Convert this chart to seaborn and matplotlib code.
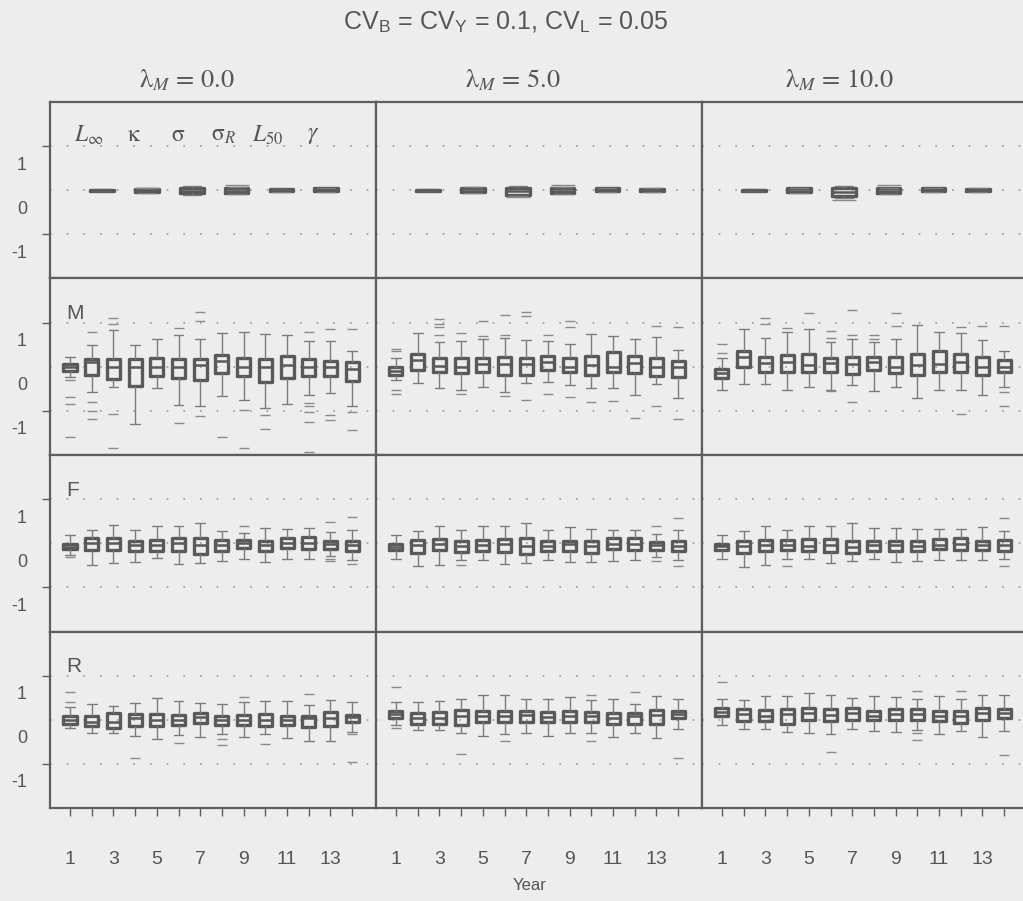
import matplotlib
matplotlib.use("Agg")
import matplotlib.pyplot as plt
from matplotlib.transforms import offset_copy
import numpy as np
import pandas as pd
import seaborn as sns

# ---------------------------------------------------------------- data
years = list(range(1, 15))
year_labels = [str(y) if y % 2 == 1 else "" for y in years]
lambda_titles = [r"λ$_M$ = 0.0", r"λ$_M$ = 5.0", r"λ$_M$ = 10.0"]
param_names = [r"$L_\infty$", "κ", "σ", r"σ$_R$", r"$L_{50}$", r"$\gamma$"]
row_names = ["M", "F", "R"]
y_tick_values = [-1, 0, 1]
ref_levels = [-1, 0, 1]

# each tuple: (lower whisker, Q1, median, Q3, upper whisker)
par_l0 = [(-0.02, -0.01, 0.0, 0.01, 0.02), (-0.07, -0.05, -0.01, 0.03, 0.05),
          (-0.10, -0.07, -0.01, 0.05, 0.09), (-0.08, -0.06, -0.01, 0.04, 0.07),
          (-0.03, -0.02, 0.0, 0.02, 0.03), (-0.03, -0.02, 0.01, 0.04, 0.06)]
par_l5 = [(-0.02, -0.01, 0.0, 0.01, 0.02), (-0.07, -0.05, -0.01, 0.04, 0.07),
          (-0.13, -0.10, -0.02, 0.06, 0.09), (-0.09, -0.06, -0.01, 0.04, 0.07),
          (-0.03, -0.02, 0.01, 0.04, 0.05), (-0.03, -0.02, 0.0, 0.03, 0.04)]
par_l10 = [(-0.02, -0.01, 0.0, 0.01, 0.02), (-0.07, -0.05, -0.01, 0.04, 0.06),
           (-0.18, -0.13, -0.03, 0.06, 0.09), (-0.09, -0.06, -0.01, 0.04, 0.06),
           (-0.03, -0.02, 0.01, 0.04, 0.05), (-0.03, -0.02, 0.0, 0.03, 0.04)]
par_out_l0 = [[], [0.06], [], [0.12], [], []]
par_out_l5 = [[], [], [-0.15], [0.12], [], []]
par_out_l10 = [[], [], [-0.21], [0.11], [], []]

m_l0 = [(-0.24, -0.09, -0.015, 0.06, 0.21), (-0.58, -0.18, 0.10, 0.17, 0.49),
        (-0.46, -0.28, 0.0, 0.17, 0.83), (-1.29, -0.44, 0.0, 0.17, 0.50),
        (-0.49, -0.22, 0.0, 0.19, 0.64), (-0.86, -0.26, -0.015, 0.17, 0.72),
        (-0.90, -0.30, 0.04, 0.17, 0.62), (-0.67, -0.14, 0.13, 0.26, 0.76),
        (-0.75, -0.22, 0.0, 0.19, 0.79), (-0.93, -0.35, 0.0, 0.17, 0.75),
        (-0.84, -0.25, 0.04, 0.24, 0.73), (-0.65, -0.22, -0.015, 0.17, 0.58),
        (-0.60, -0.22, -0.015, 0.13, 0.58), (-0.88, -0.33, -0.05, 0.10, 0.36)]
m_out_l0 = [[-0.30, -0.69, -0.85, -1.60], [0.79, -0.81, -1.00, -1.18],
            [1.11, 0.97, -1.06, -1.85], [], [], [0.88, -1.27],
            [1.24, 1.03, -1.12], [-1.59], [-0.99, -1.85], [-1.10, -1.42], [],
            [0.79, -0.82, -0.90, -1.03, -1.25, -1.93], [0.85, -1.10, -1.21],
            [0.86, -1.03, -1.44]]

m_l5 = [(-0.30, -0.18, -0.09, 0.0, 0.19), (-0.37, -0.07, 0.16, 0.28, 0.76),
        (-0.49, -0.13, 0.02, 0.19, 0.55), (-0.52, -0.14, 0.0, 0.19, 0.58),
        (-0.46, -0.13, 0.06, 0.19, 0.64), (-0.58, -0.18, 0.06, 0.21, 0.66),
        (-0.37, -0.19, 0.06, 0.19, 0.61), (-0.35, -0.07, 0.10, 0.25, 0.58),
        (-0.41, -0.13, 0.0, 0.19, 0.51), (-0.49, -0.18, 0.04, 0.25, 0.75),
        (-0.49, -0.11, 0.0, 0.34, 0.70), (-0.64, -0.14, 0.08, 0.25, 0.64),
        (-0.39, -0.22, -0.015, 0.19, 0.68), (-0.70, -0.24, -0.015, 0.13, 0.37)]
m_out_l5 = [[0.40, 0.36, -0.52, -0.61], [], [1.09, 0.98, 0.90, 0.73],
            [0.77, -0.61], [1.03, 0.70], [1.17, 0.73, -0.67],
            [1.24, 1.15, -0.76], [0.73, -0.61], [1.03, 0.90, -0.69], [-0.80],
            [-0.78], [-1.16], [0.92, -0.89], [0.90, -1.19]]

m_l10 = [(-0.52, -0.25, -0.14, -0.04, 0.19), (-0.40, -0.015, 0.21, 0.36, 0.86),
         (-0.40, -0.13, 0.08, 0.21, 0.66), (-0.52, -0.11, 0.10, 0.26, 0.79),
         (-0.46, -0.13, 0.04, 0.28, 0.85), (-0.52, -0.11, 0.08, 0.19, 0.55),
         (-0.41, -0.16, 0.06, 0.21, 0.64), (-0.54, -0.07, 0.10, 0.21, 0.55),
         (-0.46, -0.15, 0.0, 0.22, 0.62), (-0.70, -0.18, 0.04, 0.28, 0.94),
         (-0.52, -0.13, 0.06, 0.36, 0.79), (-0.52, -0.11, 0.11, 0.28, 0.76),
         (-0.63, -0.18, -0.015, 0.21, 0.60), (-0.46, -0.13, 0.0, 0.15, 0.36)]
m_out_l10 = [[0.51, 0.31], [], [1.11, 0.96], [0.88], [1.22],
             [0.81, 0.66, -0.56], [1.28, 0.73, -0.79], [0.71, 0.62],
             [1.21, 0.92], [], [], [0.91, -1.06], [0.92], [0.92, -0.58, -0.89]]

f_l0 = [(-0.26, -0.14, -0.075, -0.015, 0.19), (-0.49, -0.15, 0.0, 0.11, 0.31),
        (-0.45, -0.15, 0.0, 0.11, 0.42), (-0.43, -0.18, -0.05, 0.06, 0.31),
        (-0.34, -0.18, -0.05, 0.08, 0.38), (-0.47, -0.18, 0.0, 0.11, 0.38),
        (-0.45, -0.24, -0.05, 0.11, 0.46), (-0.41, -0.18, -0.04, 0.08, 0.27),
        (-0.35, -0.11, 0.0, 0.08, 0.23), (-0.42, -0.18, -0.05, 0.06, 0.35),
        (-0.35, -0.11, 0.0, 0.11, 0.32), (-0.35, -0.13, 0.0, 0.14, 0.35),
        (-0.29, -0.13, -0.015, 0.06, 0.25), (-0.38, -0.17, -0.05, 0.04, 0.31)]
f_out_l0 = [[-0.32], [], [], [], [], [], [], [], [0.40], [], [], [],
            [0.49, -0.35, -0.41], [0.59, -0.48]]

f_l5 = [(-0.35, -0.16, -0.09, -0.02, 0.18), (-0.52, -0.22, -0.05, 0.08, 0.28),
        (-0.49, -0.16, -0.02, 0.09, 0.40), (-0.37, -0.20, -0.07, 0.04, 0.31),
        (-0.37, -0.18, -0.05, 0.08, 0.40), (-0.46, -0.20, -0.02, 0.10, 0.38),
        (-0.45, -0.24, -0.07, 0.13, 0.47), (-0.37, -0.18, -0.06, 0.04, 0.31),
        (-0.43, -0.18, -0.02, 0.06, 0.37), (-0.43, -0.21, -0.07, 0.06, 0.33),
        (-0.40, -0.13, -0.02, 0.12, 0.31), (-0.39, -0.15, -0.01, 0.13, 0.31),
        (-0.31, -0.15, -0.05, 0.03, 0.22), (-0.37, -0.18, -0.07, 0.04, 0.29)]
f_out_l5 = [[], [], [], [-0.50], [], [], [], [], [], [], [], [],
            [0.38, -0.40], [0.57, -0.51]]

f_l10 = [(-0.36, -0.15, -0.07, -0.02, 0.19), (-0.54, -0.22, -0.07, 0.04, 0.27),
         (-0.50, -0.18, -0.05, 0.08, 0.38), (-0.36, -0.15, -0.03, 0.08, 0.31),
         (-0.36, -0.18, -0.07, 0.09, 0.40), (-0.45, -0.20, -0.05, 0.09, 0.40),
         (-0.41, -0.22, -0.09, 0.06, 0.47), (-0.36, -0.17, -0.05, 0.04, 0.34),
         (-0.43, -0.17, -0.05, 0.06, 0.34), (-0.41, -0.18, -0.07, 0.06, 0.32),
         (-0.39, -0.13, -0.03, 0.10, 0.32), (-0.37, -0.16, -0.01, 0.12, 0.32),
         (-0.39, -0.15, -0.05, 0.06, 0.36), (-0.35, -0.18, -0.05, 0.08, 0.28)]
f_out_l10 = [[], [], [], [-0.51], [], [], [], [], [], [], [], [], [],
             [0.58, -0.51]]

r_l0 = [(-0.19, -0.10, 0.0, 0.09, 0.30), (-0.29, -0.15, -0.04, 0.09, 0.35),
        (-0.29, -0.19, -0.04, 0.15, 0.32), (-0.36, -0.13, 0.03, 0.12, 0.39),
        (-0.44, -0.13, 0.0, 0.13, 0.49), (-0.34, -0.12, 0.0, 0.11, 0.43),
        (-0.40, -0.08, 0.06, 0.16, 0.39), (-0.32, -0.12, 0.0, 0.09, 0.36),
        (-0.40, -0.12, 0.0, 0.11, 0.41), (-0.33, -0.15, 0.0, 0.12, 0.43),
        (-0.42, -0.12, 0.0, 0.09, 0.43), (-0.48, -0.17, 0.03, 0.09, 0.34),
        (-0.47, -0.14, 0.03, 0.18, 0.45), (-0.27, -0.04, 0.06, 0.11, 0.40)]
r_out_l0 = [[0.62, 0.41], [], [], [-0.87], [], [-0.53], [], [-0.43, -0.58],
            [0.52], [-0.55], [], [0.58], [], [-0.32, -0.96]]

r_l5 = [(-0.11, 0.03, 0.12, 0.20, 0.40), (-0.24, -0.10, 0.05, 0.15, 0.40),
        (-0.24, -0.09, 0.04, 0.18, 0.42), (-0.31, -0.12, 0.09, 0.23, 0.48),
        (-0.36, -0.06, 0.09, 0.20, 0.55), (-0.33, -0.06, 0.09, 0.19, 0.57),
        (-0.29, -0.06, 0.10, 0.20, 0.48), (-0.36, -0.05, 0.06, 0.18, 0.48),
        (-0.29, -0.05, 0.09, 0.20, 0.51), (-0.31, -0.06, 0.08, 0.18, 0.44),
        (-0.38, -0.09, 0.05, 0.15, 0.48), (-0.29, -0.10, 0.08, 0.16, 0.36),
        (-0.41, -0.10, 0.10, 0.23, 0.54), (-0.21, 0.03, 0.12, 0.20, 0.46)]
r_out_l5 = [[0.74, -0.18], [], [], [-0.78], [], [-0.48], [], [], [],
            [0.57, -0.47], [], [0.63], [], [-0.86]]

r_l10 = [(-0.11, 0.08, 0.18, 0.27, 0.46), (-0.21, -0.03, 0.12, 0.25, 0.45),
         (-0.20, -0.03, 0.09, 0.21, 0.54), (-0.27, -0.09, 0.12, 0.25, 0.54),
         (-0.31, -0.01, 0.15, 0.27, 0.61), (-0.33, -0.03, 0.10, 0.24, 0.57),
         (-0.22, 0.0, 0.15, 0.27, 0.49), (-0.26, -0.01, 0.09, 0.19, 0.54),
         (-0.27, -0.01, 0.12, 0.25, 0.51), (-0.24, -0.01, 0.12, 0.25, 0.48),
         (-0.33, -0.03, 0.09, 0.20, 0.53), (-0.26, -0.07, 0.09, 0.20, 0.48),
         (-0.38, -0.01, 0.15, 0.27, 0.57), (-0.26, 0.04, 0.15, 0.25, 0.55)]
r_out_l10 = [[0.85], [], [], [], [], [-0.74], [], [], [], [0.66, -0.31, -0.46],
             [], [0.66], [], [-0.80]]

param_stats = [par_l0, par_l5, par_l10]
param_outliers = [par_out_l0, par_out_l5, par_out_l10]
year_stats = [[m_l0, m_l5, m_l10], [f_l0, f_l5, f_l10], [r_l0, r_l5, r_l10]]
year_outliers = [[m_out_l0, m_out_l5, m_out_l10],
                 [f_out_l0, f_out_l5, f_out_l10],
                 [r_out_l0, r_out_l5, r_out_l10]]

# ---------------------------------------------------------------- style
BG = "#ededed"
FRAME = "#5e5e5e"
BOX = "#595959"
WHISK = "#7c7c7c"
OUT = "#8a8a8a"
DOT = "#9a9a9a"
TEXT = "#555555"
SERIF = ["STIXGeneral", "Liberation Serif", "DejaVu Serif"]

sns.set_theme(style="white", rc={
    "figure.facecolor": BG, "axes.facecolor": BG, "savefig.facecolor": BG,
    "axes.edgecolor": FRAME, "axes.linewidth": 1.6,
    "xtick.color": FRAME, "ytick.color": FRAME,
    "mathtext.fontset": "stix",
})
plt.rcParams["font.family"] = ["Liberation Sans", "DejaVu Sans"]


def draw_boxes(ax, positions, stats, outliers, width, capw, dash):
    pos, val = [], []
    for p, s in zip(positions, stats):
        pos += [p] * len(s)
        val += list(s)
    df = pd.DataFrame({"pos": pos, "val": val})
    sns.boxplot(data=df, x="pos", y="val", native_scale=True, whis=(0, 100),
                width=width, fill=False, linecolor=BOX, ax=ax,
                boxprops=dict(linewidth=2.4, color=BOX),
                medianprops=dict(linewidth=1.8, color=BOX),
                whiskerprops=dict(linewidth=1.0, color=WHISK),
                capprops=dict(linewidth=1.0, color=WHISK),
                capwidths=capw, zorder=3)
    op, ov = [], []
    for p, o in zip(positions, outliers):
        op += [p] * len(o)
        ov += list(o)
    if op:
        sns.scatterplot(x=op, y=ov, marker="_", s=dash, color=OUT,
                        linewidth=1.0, ax=ax, zorder=3, legend=False)
    for lv in ref_levels:
        ax.axhline(lv, color=DOT, lw=1.2, ls=(0, (1, 9)), zorder=1)


fig = plt.figure(figsize=(10.23, 9.01), dpi=100)
gs = fig.add_gridspec(4, 3, left=0.0489, right=1.0049, top=0.8868,
                      bottom=0.1032, wspace=0, hspace=0)
axes = [[fig.add_subplot(gs[r, c]) for c in range(3)] for r in range(4)]

param_pos = list(range(1, len(param_names) + 1))

for c in range(3):
    ax = axes[0][c]
    draw_boxes(ax, param_pos, param_stats[c], param_outliers[c],
               width=0.53, capw=0.4, dash=280)
    ax.set_xlim(-0.16, 7.11)
    if c == 0:
        for p, name in zip(param_pos, param_names):
            ax.text(p - 0.3, 1.25, name, fontsize=17, color=TEXT,
                    family=SERIF, ha="center", va="center")
    ax.text(0.42, 1.12, lambda_titles[c], transform=ax.transAxes,
            fontsize=19, color=TEXT, family=SERIF, ha="center", va="center")
    for r in range(3):
        ax2 = axes[r + 1][c]
        draw_boxes(ax2, years, year_stats[r][c], year_outliers[r][c],
                   width=0.6, capw=0.45, dash=60)
        ax2.set_xlim(0.08, 15.1)
        if c == 0:
            ax2.text(0.05, 0.80, row_names[r], transform=ax2.transAxes,
                     fontsize=15, color=TEXT, ha="left", va="center")

for r in range(4):
    for c in range(3):
        ax = axes[r][c]
        ax.set_ylim(-2, 2)
        ax.set_xlabel("")
        ax.set_ylabel("")
        for sp in ax.spines.values():
            sp.set_visible(True)
            sp.set_color(FRAME)
            sp.set_linewidth(1.6)
        ax.set_yticks([])
        if r == 3:
            ax.set_xticks(years)
            ax.set_xticklabels(year_labels)
            ax.tick_params(axis="x", direction="out", length=6, width=1.0,
                           pad=25, labelsize=14, colors=FRAME,
                           labelcolor=TEXT, bottom=True)
        else:
            ax.set_xticks([])
        if c == 0:
            ax.set_yticks([-1, 1])
            ax.set_yticklabels([])
            ax.tick_params(axis="y", direction="out", length=6, width=1.0,
                           colors=FRAME, left=True)
            lab_tr = offset_copy(ax.get_yaxis_transform(), fig=fig,
                                 x=-23, y=-19, units="dots")
            for v in y_tick_values:
                ax.text(0, v, str(v), transform=lab_tr, fontsize=13,
                        color=TEXT, ha="right", va="center")

fig.text(0.494, 0.9756,
         r"CV$_\mathregular{B}$ = CV$_\mathregular{Y}$ = 0.1, CV$_\mathregular{L}$ = 0.05",
         fontsize=18, color=TEXT, ha="center", va="center")
fig.text(0.518, 0.017, "Year", fontsize=12, color=TEXT, ha="center",
         va="center")

fig.savefig("out.png", dpi=100, facecolor=BG)
